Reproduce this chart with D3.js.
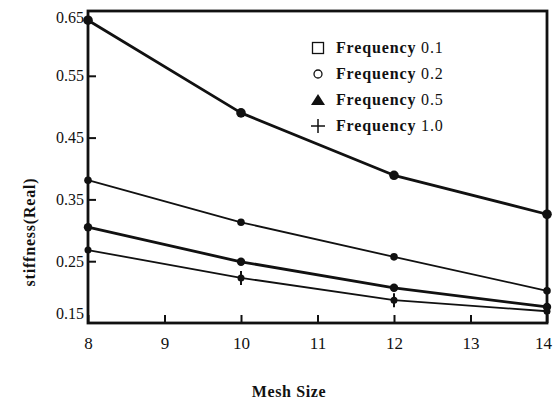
<!DOCTYPE html>
<html>
<head>
<meta charset="utf-8">
<script src="https://cdn.jsdelivr.net/npm/d3@7"></script>
<style>
  html, body { margin: 0; padding: 0; background: #fff; }
  svg { display: block; }
  svg text { font-family: "Liberation Serif", "DejaVu Serif", serif !important; fill: #111; }
</style>
</head>
<body>
<svg id="chart" width="553" height="402"></svg>
<script>
// Mesh sizes along the x axis
const meshSizes = [8, 10, 12, 14];

// Real part of the stiffness for each excitation frequency
const freq01 = [0.640, 0.490, 0.389, 0.326];
const freq02 = [0.381, 0.313, 0.257, 0.202];
const freq05 = [0.305, 0.249, 0.207, 0.176];
const freq10 = [0.268, 0.223, 0.187, 0.169];

const seriesNames = ["Frequency 0.1", "Frequency 0.2", "Frequency 0.5", "Frequency 1.0"];
const legendSymbols = ["square", "circle", "triangle", "plus"];

const xTicks = [8, 9, 10, 11, 12, 13, 14];
const yTicks = [0.15, 0.25, 0.35, 0.45, 0.55, 0.65];

const series = [
  { name: seriesNames[0], values: freq01, width: 2.8, r: 4.8, symbol: legendSymbols[0] },
  { name: seriesNames[1], values: freq02, width: 1.8, r: 3.8, symbol: legendSymbols[1] },
  { name: seriesNames[2], values: freq05, width: 2.8, r: 4.2, symbol: legendSymbols[2] },
  { name: seriesNames[3], values: freq10, width: 1.8, r: 3.5, symbol: legendSymbols[3] }
];

const svg = d3.select("#chart");
const plotLeft = 88, plotRight = 547, plotTop = 11, plotBottom = 323;

const x = d3.scaleLinear().domain([8, 14]).range([plotLeft, plotRight]);
const y = d3.scaleLinear().domain([0.15, 0.65]).range([plotBottom, 14]);

// Plot frame
svg.append("rect")
  .attr("x", plotLeft).attr("y", plotTop)
  .attr("width", plotRight - plotLeft).attr("height", plotBottom - plotTop)
  .attr("fill", "none").attr("stroke", "#111").attr("stroke-width", 2.8);

// Bottom axis: inward ticks, labels below
const xAxis = svg.append("g")
  .attr("transform", `translate(0,${plotBottom})`)
  .call(d3.axisBottom(x).tickValues(xTicks).tickFormat(d3.format("d")).tickSizeInner(-8).tickSizeOuter(0).tickPadding(14));
xAxis.attr("font-family", null);
xAxis.select(".domain").remove();
xAxis.selectAll(".tick line").attr("stroke", "#111").attr("stroke-width", 2);
xAxis.selectAll(".tick text").attr("font-size", 17).attr("fill", "#111")
  .attr("dx", d => d === 14 ? -4 : 0);

// Left axis: inward ticks, labels left
const yAxis = svg.append("g")
  .attr("transform", `translate(${plotLeft},0)`)
  .call(d3.axisLeft(y).tickValues(yTicks).tickFormat(d3.format(".2f")).tickSizeInner(-8).tickSizeOuter(0).tickPadding(4));
yAxis.attr("font-family", null);
yAxis.select(".domain").remove();
yAxis.selectAll(".tick line").attr("stroke", "#111").attr("stroke-width", 2)
  .attr("display", d => (d === 0.15 || d === 0.65) ? "none" : null);
yAxis.selectAll(".tick text").attr("font-size", 16).attr("fill", "#111")
  .attr("dy", d => d === 0.65 ? "0.55em" : d === 0.15 ? "-0.3em" : "0.32em");

// Axis titles
svg.append("text")
  .attr("x", 289).attr("y", 397)
  .attr("text-anchor", "middle").attr("font-size", 16).attr("font-weight", "bold")
  .attr("letter-spacing", 0.6)
  .text("Mesh Size");
svg.append("text")
  .attr("transform", "translate(35,232) rotate(-90)")
  .attr("text-anchor", "middle").attr("font-size", 16).attr("font-weight", "bold")
  .attr("letter-spacing", 0.8)
  .text("stiffness(Real)");

// Lines and markers
const line = d3.line().x((d, i) => x(meshSizes[i])).y(d => y(d));
series.forEach(s => {
  svg.append("path")
    .datum(s.values)
    .attr("d", line)
    .attr("fill", "none")
    .attr("stroke", "#111")
    .attr("stroke-width", s.width)
    .attr("stroke-linejoin", "round");
  svg.append("g").selectAll("circle")
    .data(s.values)
    .join("circle")
    .attr("cx", (d, i) => x(meshSizes[i]))
    .attr("cy", d => y(d))
    .attr("r", s.r)
    .attr("fill", "#111");
  if (s.symbol === "plus") {
    svg.append("g").selectAll("line")
      .data(s.values)
      .join("line")
      .attr("x1", (d, i) => x(meshSizes[i])).attr("x2", (d, i) => x(meshSizes[i]))
      .attr("y1", d => y(d) - 7).attr("y2", d => y(d) + 7)
      .attr("stroke", "#111").attr("stroke-width", 2);
  }
});

// Legend
const legend = svg.append("g").attr("transform", "translate(318,48)");
const rowGap = 26;
series.forEach((s, i) => {
  const g = legend.append("g").attr("transform", `translate(0,${i * rowGap})`);
  if (s.symbol === "square") {
    g.append("rect").attr("x", -5.5).attr("y", -5.5).attr("width", 11).attr("height", 11)
      .attr("fill", "none").attr("stroke", "#111").attr("stroke-width", 1.3);
  } else if (s.symbol === "circle") {
    g.append("circle").attr("r", 4).attr("fill", "none").attr("stroke", "#111").attr("stroke-width", 1.3);
  } else if (s.symbol === "triangle") {
    g.append("path").attr("d", "M-7,5L0,-6L7,5Z").attr("fill", "#111");
  } else {
    g.append("path").attr("d", "M-7,0H7M0,-7V7").attr("stroke", "#111").attr("stroke-width", 1.5);
  }
  const t = g.append("text").attr("x", 18).attr("y", 5).attr("font-size", 16).attr("letter-spacing", 0.85);
  t.append("tspan").attr("font-weight", "bold").text("Frequency ");
  t.append("tspan").text(s.name.split(" ")[1]);
});
</script>
</body>
</html>
